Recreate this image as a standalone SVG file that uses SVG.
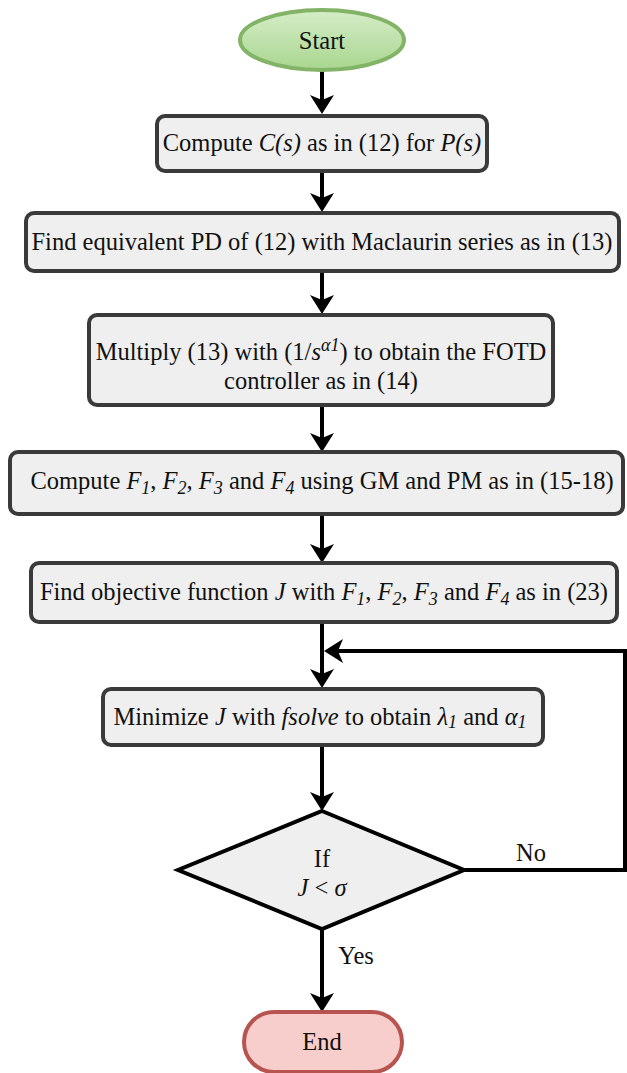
<svg xmlns="http://www.w3.org/2000/svg" width="627" height="1073" viewBox="0 0 627 1073" font-family="Liberation Serif">
<defs>
<linearGradient id="gs" x1="0" y1="0" x2="0" y2="1"><stop offset="0" stop-color="#d5edc8"/><stop offset="1" stop-color="#a9d68f"/></linearGradient>
</defs>
<style>
.box{fill:#efefef;stroke:#3a3a3a;stroke-width:4}
.t{font-size:24.5px;fill:#111;text-anchor:middle}
.i{font-style:italic}
.c{stroke:#000;stroke-width:4;fill:none}
.ar{fill:#000}
</style>
<g id="connectors">
<line class="c" x1="322" y1="71" x2="322" y2="100"/>
<path class="ar" d="M310,95 L322,114 L334,95 L322,100 z"/>
<line class="c" x1="322" y1="171" x2="322" y2="198"/>
<path class="ar" d="M310,193 L322,212 L334,193 L322,198 z"/>
<line class="c" x1="322" y1="272" x2="322" y2="300"/>
<path class="ar" d="M310,295 L322,314 L334,295 L322,300 z"/>
<line class="c" x1="322" y1="406" x2="322" y2="438"/>
<path class="ar" d="M310,433 L322,452 L334,433 L322,438 z"/>
<line class="c" x1="322" y1="515" x2="322" y2="549"/>
<path class="ar" d="M310,544 L322,563 L334,544 L322,549 z"/>
<line class="c" x1="322" y1="623" x2="322" y2="674"/>
<path class="ar" d="M310,669 L322,688 L334,669 L322,674 z"/>
<polyline class="c" points="465,870 625,870 625,651 338,651"/>
<path class="ar" d="M343,639 L324,651 L343,663 L338,651 z"/>
<line class="c" x1="322" y1="746" x2="322" y2="797"/>
<path class="ar" d="M310,792 L322,811 L334,792 L322,797 z"/>
<line class="c" x1="322" y1="930" x2="322" y2="998"/>
<path class="ar" d="M310,993 L322,1012 L334,993 L322,998 z"/>
<text class="t" font-family="Liberation Serif" x="531" y="861">No</text>
<text class="t" font-family="Liberation Serif" x="356" y="964">Yes</text>
</g>
<g id="start">
<ellipse cx="322" cy="40" rx="82" ry="30" fill="url(#gs)" stroke="#82b366" stroke-width="4"/>
<text class="t" font-family="Liberation Serif" x="322" y="49">Start</text>
</g>
<g id="n1">
<rect class="box" x="157" y="116" width="330" height="55" rx="8"/>
<text class="t" font-family="Liberation Serif" x="322" y="151">Compute <tspan class="i">C(s)</tspan> as in (12) for <tspan class="i">P(s)</tspan></text>
</g>
<g id="n2">
<rect class="box" x="26" y="213" width="593" height="58" rx="8"/>
<text class="t" font-family="Liberation Serif" x="322" y="250">Find equivalent PD of (12) with Maclaurin series as in (13)</text>
</g>
<g id="n3">
<rect class="box" x="89" y="315" width="464" height="90" rx="8"/>
<text class="t" font-family="Liberation Serif" x="321" y="360">Multiply (13) with (1/<tspan class="i">s</tspan><tspan class="i" font-size="18" dy="-9">α1</tspan><tspan dy="9">) to obtain the FOTD</tspan></text>
<text class="t" font-family="Liberation Serif" x="321" y="389">controller as in (14)</text>
</g>
<g id="n4">
<rect class="box" x="10" y="452" width="613" height="62" rx="8"/>
<text class="t" font-family="Liberation Serif" x="322" y="489">Compute <tspan class="i">F</tspan><tspan class="i" font-size="18" dy="5">1</tspan><tspan dy="-5">, </tspan><tspan class="i">F</tspan><tspan class="i" font-size="18" dy="5">2</tspan><tspan dy="-5">, </tspan><tspan class="i">F</tspan><tspan class="i" font-size="18" dy="5">3</tspan><tspan dy="-5"> and </tspan><tspan class="i">F</tspan><tspan class="i" font-size="18" dy="5">4</tspan><tspan dy="-5"> using GM and PM as in (15-18)</tspan></text>
</g>
<g id="n5">
<rect class="box" x="31" y="563" width="586" height="59" rx="8"/>
<text class="t" font-family="Liberation Serif" x="324" y="600">Find objective function <tspan class="i">J</tspan> with <tspan class="i">F</tspan><tspan class="i" font-size="18" dy="5">1</tspan><tspan dy="-5">, </tspan><tspan class="i">F</tspan><tspan class="i" font-size="18" dy="5">2</tspan><tspan dy="-5">, </tspan><tspan class="i">F</tspan><tspan class="i" font-size="18" dy="5">3</tspan><tspan dy="-5"> and </tspan><tspan class="i">F</tspan><tspan class="i" font-size="18" dy="5">4</tspan><tspan dy="-5"> as in (23)</tspan></text>
</g>
<g id="n6">
<rect class="box" x="103" y="689" width="440" height="56" rx="8"/>
<text class="t" font-family="Liberation Serif" x="320" y="725">Minimize <tspan class="i">J</tspan> with <tspan class="i">fsolve</tspan> to obtain <tspan class="i">λ</tspan><tspan class="i" font-size="18" dy="3">1</tspan><tspan dy="-3"> and </tspan><tspan class="i">α</tspan><tspan class="i" font-size="18" dy="3">1</tspan></text>
</g>
<g id="decision">
<polygon points="322,811 464,870 322,929 178,870" fill="#efefef" stroke="#000" stroke-width="4" stroke-linejoin="miter"/>
<text class="t" font-family="Liberation Serif" x="322" y="867">If</text>
<text class="t" font-family="Liberation Serif" x="322" y="896"><tspan class="i">J</tspan> &lt; <tspan class="i">σ</tspan></text>
</g>
<g id="end">
<rect x="244" y="1012" width="158" height="60" rx="30" fill="#f8cecc" stroke="#b85450" stroke-width="4"/>
<text class="t" font-family="Liberation Serif" x="322" y="1050">End</text>
</g>
</svg>
